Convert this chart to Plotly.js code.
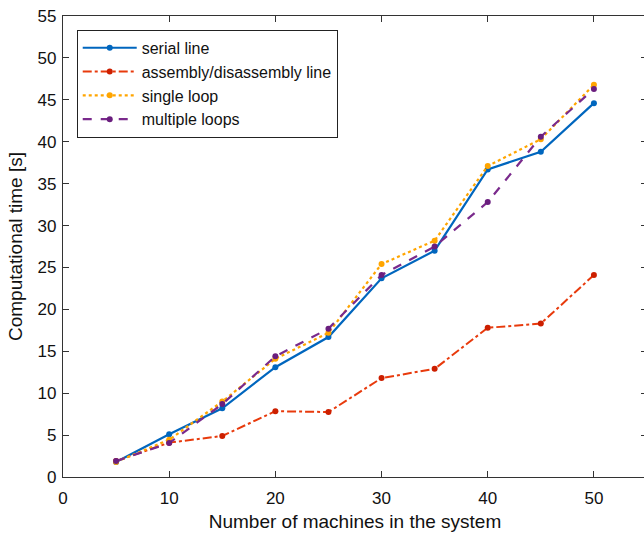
<!DOCTYPE html>
<html>
<head>
<meta charset="utf-8">
<script src="https://cdn.plot.ly/plotly-3.0.1.min.js"></script>
<style>
html,body{margin:0;padding:0;overflow:hidden;background:#fff;}
#chart{width:648px;height:537px;}
</style>
</head>
<body>
<div id="chart"></div>
<script>
const machines = [5, 10, 15, 20, 25, 30, 35, 40, 45, 50];
const serialLine = [1.8, 5.1, 8.2, 13.1, 16.7, 23.7, 27.0, 36.7, 38.8, 44.6];
const assemblyLine = [1.9, 4.1, 4.9, 7.85, 7.75, 11.8, 12.9, 17.8, 18.3, 24.1];
const singleLoop = [1.8, 4.45, 9.0, 14.1, 17.2, 25.4, 28.2, 37.1, 40.3, 46.8];
const multipleLoops = [1.9, 4.05, 8.7, 14.4, 17.7, 24.1, 27.5, 32.8, 40.6, 46.3];
const seriesNames = ["serial line", "assembly/disassembly line", "single loop", "multiple loops"];
const xTicks = [0, 10, 20, 30, 40, 50];
const yTicks = [0, 5, 10, 15, 20, 25, 30, 35, 40, 45, 50, 55];

const font = "Liberation Sans, Arial, Helvetica, sans-serif";

const traces = [
  {x: machines, y: serialLine, name: seriesNames[0], mode: "lines+markers",
   line: {color: "#0066BE", width: 2.2, dash: "solid"}, marker: {color: "#0066BE", size: 6}},
  {x: machines, y: assemblyLine, name: seriesNames[1], mode: "lines+markers",
   line: {color: "#E83A0C", width: 2, dash: "dashdot"}, marker: {color: "#CC1F00", size: 6}},
  {x: machines, y: singleLoop, name: seriesNames[2], mode: "lines+markers",
   line: {color: "#FFA500", width: 2.2, dash: "dot"}, marker: {color: "#FFA500", size: 6}},
  {x: machines, y: multipleLoops, name: seriesNames[3], mode: "lines+markers",
   line: {color: "#7A2A8C", width: 2.2, dash: "dash"}, marker: {color: "#6A1E7E", size: 6}}
];

const axisCommon = {
  showgrid: false, zeroline: false, showline: true, mirror: "ticks",
  linecolor: "#333", linewidth: 1.2, ticks: "inside", ticklen: 6, tickcolor: "#333",
  tickfont: {family: font, size: 17, color: "#111"}
};

const layout = {
  width: 648, height: 537,
  margin: {l: 63, r: 1, t: 16, b: 60},
  paper_bgcolor: "#fff", plot_bgcolor: "#fff",
  showlegend: true,
  legend: {x: 0.0235, y: 0.97, xanchor: "left", yanchor: "top",
    bordercolor: "#222", borderwidth: 1, bgcolor: "#fff",
    font: {family: font, size: 16, color: "#111"}, itemwidth: 54, tracegroupgap: 0},
  xaxis: Object.assign({}, axisCommon, {range: [0, 55], tickvals: xTicks, ticklabelstandoff: 5,
    title: {text: "Number of machines in the system", font: {family: font, size: 19, color: "#111"}, standoff: 8}}),
  yaxis: Object.assign({}, axisCommon, {range: [0, 55], tickvals: yTicks, ticklabelstandoff: 2,
    title: {text: "Computational time [s]", font: {family: font, size: 19, color: "#111"}, standoff: 9}})
};

Plotly.newPlot("chart", traces, layout, {displayModeBar: false, staticPlot: true});
</script>
</body>
</html>
